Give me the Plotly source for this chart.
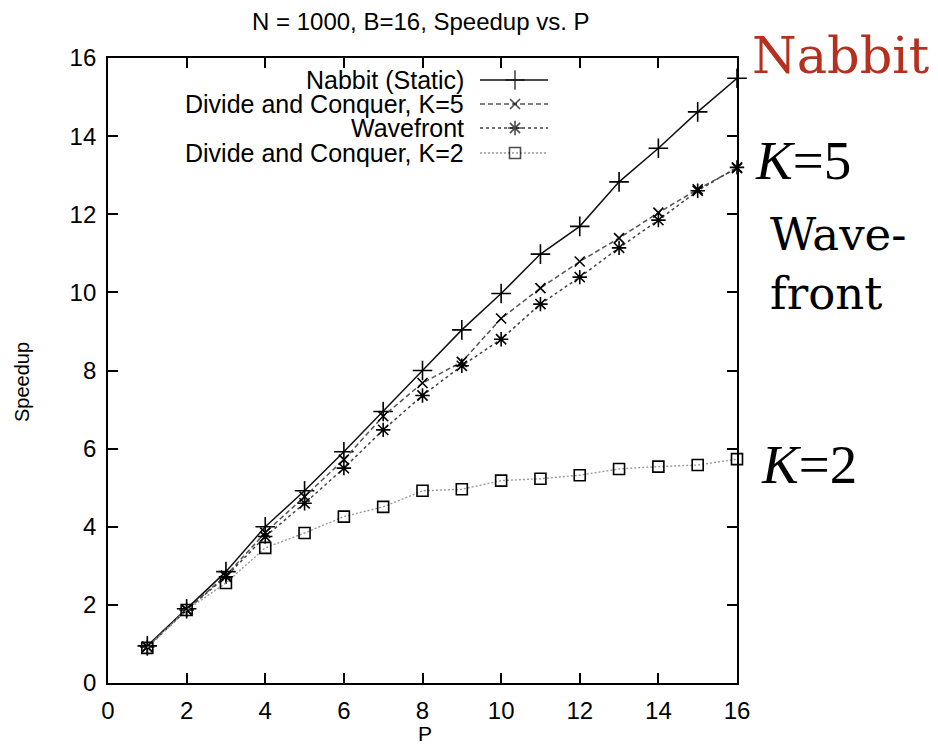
import plotly.graph_objects as go

# ---- data ----
P = list(range(1, 17))
nabbit = [0.95, 1.90, 2.85, 4.00, 4.92, 5.92, 6.95, 8.00, 9.04, 9.97, 10.98, 11.69, 12.83, 13.69, 14.62, 15.48]
dc_k5 = [0.93, 1.88, 2.75, 3.85, 4.77, 5.72, 6.83, 7.68, 8.22, 9.33, 10.11, 10.79, 11.39, 12.04, 12.64, 13.18]
wavefront = [0.92, 1.87, 2.72, 3.75, 4.60, 5.50, 6.48, 7.36, 8.12, 8.80, 9.70, 10.39, 11.14, 11.85, 12.60, 13.20]
dc_k2 = [0.90, 1.87, 2.56, 3.46, 3.84, 4.26, 4.51, 4.92, 4.96, 5.18, 5.23, 5.32, 5.48, 5.54, 5.58, 5.73]

names = ["Nabbit (Static)", "Divide and Conquer, K=5", "Wavefront", "Divide and Conquer, K=2"]
series = [nabbit, dc_k5, wavefront, dc_k2]
ticks = [0, 2, 4, 6, 8, 10, 12, 14, 16]

# page offset of the figure (browser body margin on every side)
OFF = 8
W, H = 938 - 2 * OFF, 755 - 2 * OFF
L, R, T, B = 108, 737, 58, 683  # desired plot area in page pixels


def fx(px):
    return (px - L) / (R - L)


def fy(py):
    return (B - py) / (B - T)


styles = [
    dict(line=dict(color="#111111", width=1.5, dash="solid"),
         marker=dict(symbol="cross-thin-open", size=14, color="#000", line=dict(color="#000", width=1.6))),
    dict(line=dict(color="#555555", width=1.5, dash="5px,3px"),
         marker=dict(symbol="x-thin-open", size=10, color="#000", line=dict(color="#000", width=1.6))),
    dict(line=dict(color="#444444", width=1.5, dash="3px,3px"),
         marker=dict(symbol="asterisk-open", size=12, color="#000", line=dict(color="#000", width=1.6))),
    dict(line=dict(color="#999999", width=1.4, dash="2px,2px"),
         marker=dict(symbol="square-open", size=11, color="#000", line=dict(color="#000", width=1.6))),
]

fig = go.Figure()
for name, ys, st in zip(names, series, styles):
    fig.add_trace(go.Scatter(x=P, y=ys, mode="lines+markers", name=name,
                             line=st["line"], marker=st["marker"],
                             cliponaxis=False, showlegend=False))

# ---- custom gnuplot-style legend (text right, sample on the right) ----
rows = [80, 104, 128, 153]
font = "Liberation Sans, Arial, sans-serif"
annotations = []
for name, st, ry in zip(names, styles, rows):
    annotations.append(dict(x=fx(465), y=fy(ry), xref="paper", yref="paper",
                            text=name, showarrow=False, xanchor="right", yanchor="middle",
                            borderpad=0,
                            font=dict(family=font, size=25, color="#000")))
    mk = dict(st["marker"])
    mk["size"] = [0, st["marker"]["size"], 0]
    fig.add_trace(go.Scatter(x=[fx(480), fx(515), fx(548)], y=[fy(ry)] * 3,
                             xaxis="x2", yaxis="y2", mode="lines+markers",
                             line=st["line"], marker=mk, showlegend=False,
                             hoverinfo="skip", cliponaxis=False))

# title and axis titles
annotations.append(dict(x=fx(421), y=fy(22), xref="paper", yref="paper",
                        text="N = 1000, B=16, Speedup vs. P", showarrow=False,
                        xanchor="center", yanchor="middle", borderpad=0,
                        font=dict(family=font, size=24, color="#000")))
annotations.append(dict(x=fx(22), y=fy(382), xref="paper", yref="paper",
                        text="Speedup", showarrow=False, textangle=-90,
                        xanchor="center", yanchor="middle",
                        font=dict(family=font, size=20, color="#000")))
annotations.append(dict(x=fx(425), y=fy(733), xref="paper", yref="paper",
                        text="P", showarrow=False, xanchor="center", yanchor="middle",
                        borderpad=0,
                        font=dict(family=font, size=21, color="#000")))

# right-hand labels
annotations.append(dict(x=fx(751), y=fy(55), xref="paper", yref="paper",
                        text="Nabbit", showarrow=False, xanchor="left", yanchor="middle",
                        borderpad=0,
                        font=dict(family="DejaVu Serif, serif", size=51, color="#b5301f")))
annotations.append(dict(x=fx(753), y=fy(160), xref="paper", yref="paper",
                        text="<i>K</i>=5", showarrow=False, xanchor="left", yanchor="middle",
                        font=dict(family="Liberation Serif, serif", size=55, color="#000")))
annotations.append(dict(x=fx(768), y=fy(264), xref="paper", yref="paper",
                        text="Wave-<br>front", showarrow=False, xanchor="left", yanchor="middle",
                        align="left",
                        font=dict(family="DejaVu Serif, serif", size=45, color="#000")))
annotations.append(dict(x=fx(759), y=fy(464), xref="paper", yref="paper",
                        text="<i>K</i>=2", showarrow=False, xanchor="left", yanchor="middle",
                        font=dict(family="Liberation Serif, serif", size=55, color="#000")))

axis_common = dict(range=[0, 16], tickvals=ticks, ticks="inside", ticklen=10,
                   tickwidth=1.5, tickcolor="#000", showline=True, linecolor="#000",
                   linewidth=1.8, mirror="ticks", showgrid=False, zeroline=False,
                   tickfont=dict(family=font, size=24, color="#000"))

fig.update_layout(
    width=W, height=H,
    margin=dict(l=L - OFF, r=(W + OFF) - R, t=T - OFF, b=(H + OFF) - B),
    paper_bgcolor="white", plot_bgcolor="white",
    xaxis=dict(**axis_common, ticklabelstandoff=5),
    yaxis=dict(**axis_common, ticklabelstandoff=5),
    xaxis2=dict(overlaying="x", range=[0, 1], visible=False),
    yaxis2=dict(overlaying="y", range=[0, 1], visible=False),
    annotations=annotations,
    showlegend=False,
)

fig.write_html("out.html")
